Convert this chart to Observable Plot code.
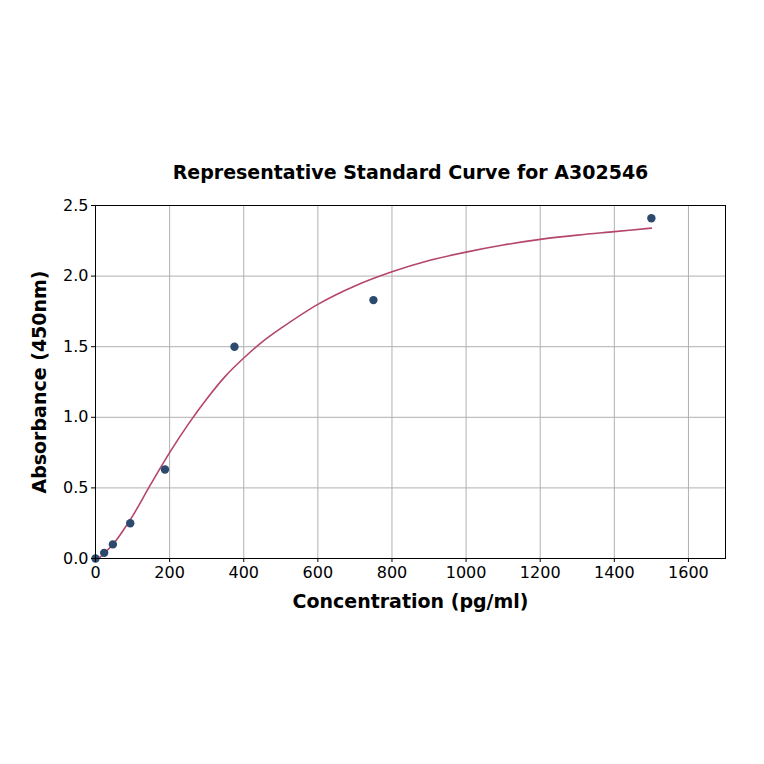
<!DOCTYPE html>
<html><head><meta charset="utf-8">
<script src="https://cdn.jsdelivr.net/npm/d3@7"></script>
<script src="https://cdn.jsdelivr.net/npm/@observablehq/plot@0.6"></script>
<style>
html,body{margin:0;padding:0;background:#fff;}
svg{font-family:"DejaVu Sans",sans-serif;}
</style>
</head><body>
<div id="chart"></div>
<script>
const title = "Representative Standard Curve for A302546";
const xLabel = "Concentration (pg/ml)";
const yLabel = "Absorbance (450nm)";
const concentrations = [0, 23.4, 46.9, 93.75, 187.5, 375, 750, 1500];
const absorbances = [0.0, 0.04, 0.10, 0.25, 0.63, 1.50, 1.83, 2.41];
const curveX = [8, 25, 50, 75, 100, 150, 200, 250, 300, 350, 400, 450, 500, 600, 700, 800, 900, 1000, 1100, 1200, 1300, 1400, 1500];
const curveY = [0.0, 0.04, 0.11, 0.20, 0.30, 0.53, 0.75, 0.95, 1.13, 1.29, 1.42, 1.535, 1.63, 1.80, 1.93, 2.03, 2.11, 2.17, 2.22, 2.26, 2.29, 2.315, 2.34];
const xTicks = [0, 200, 400, 600, 800, 1000, 1200, 1400, 1600];
const yTicks = [0.0, 0.5, 1.0, 1.5, 2.0, 2.5];

const points = concentrations.map((x, i) => ({x, y: absorbances[i]}));
const curve = curveX.map((x, i) => ({x, y: curveY[i]}));

const chart = Plot.plot({
  width: 764, height: 764,
  marginLeft: 95, marginRight: 39, marginTop: 205, marginBottom: 206,
  style: {fontFamily: "DejaVu Sans, sans-serif", fontSize: "16px", color: "#000", background: "#fff"},
  x: {domain: [0, 1700], ticks: xTicks, tickFormat: d => String(d), tickSize: 4, label: null},
  y: {domain: [0, 2.5], ticks: yTicks, tickFormat: d => d.toFixed(1), tickSize: 4, label: null},
  marks: [
    Plot.gridX(xTicks, {stroke: "#b0b0b0", strokeOpacity: 1, strokeWidth: 1}),
    Plot.gridY(yTicks, {stroke: "#b0b0b0", strokeOpacity: 1, strokeWidth: 1}),
    Plot.line(curve, {x: "x", y: "y", stroke: "#b5456b", strokeWidth: 1.6, curve: "catmull-rom", clip: true}),
    Plot.dot(points, {x: "x", y: "y", r: 4.2, fill: "#2c4a6e", stroke: "none"}),
    Plot.frame({stroke: "#000", strokeWidth: 1}),
    Plot.axisX({ticks: xTicks, tickFormat: d => String(d), tickSize: 4, tickPadding: 4, fontSize: 16, label: null}),
    Plot.axisY({ticks: yTicks, tickFormat: d => d.toFixed(1), tickSize: 4, tickPadding: 3, fontSize: 16, label: null}),
    Plot.text([title], {frameAnchor: "top", dy: -40, fontSize: 19, fontWeight: "bold", fill: "#000"}),
    Plot.text([xLabel], {frameAnchor: "bottom", dy: 49, fontSize: 19, fontWeight: "bold", fill: "#000"}),
    Plot.text([yLabel], {frameAnchor: "left", textAnchor: "middle", dx: -56, rotate: -90, fontSize: 19, fontWeight: "bold", fill: "#000"})
  ]
});
document.getElementById("chart").appendChild(chart);
</script>
</body></html>
